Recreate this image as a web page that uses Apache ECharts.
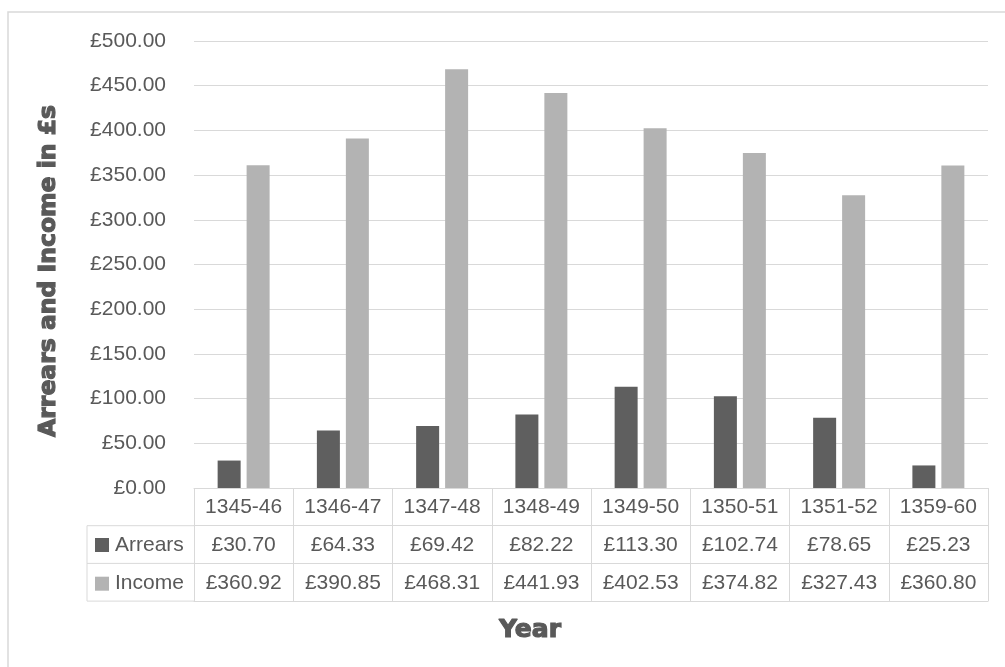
<!DOCTYPE html>
<html>
<head>
<meta charset="utf-8">
<script src="https://cdn.jsdelivr.net/npm/echarts@6/dist/echarts.min.js"></script>
<style>
  html, body { margin: 0; padding: 0; background: #ffffff; }
  #chart { width: 1005px; height: 667px; }
</style>
</head>
<body>
<div id="chart"></div>
<script>
// Manor accounts: arrears and income per accounting year
const years = ['1345-46', '1346-47', '1347-48', '1348-49', '1349-50', '1350-51', '1351-52', '1359-60'];
const arrears = [30.70, 64.33, 69.42, 82.22, 113.30, 102.74, 78.65, 25.23];
const income = [360.92, 390.85, 468.31, 441.93, 402.53, 374.82, 327.43, 360.80];
const seriesNames = ['Arrears', 'Income'];
const yTicks = { min: 0, max: 500, step: 50 };

// layout
const W = 1005, H = 667;
const plotLeft = 194, plotRight = 988, plotTop = 41, plotBottom = 488;
const rowH = 37.7;
const legendColLeft = 87;
const textColor = '#595959';
const lineColor = '#d9d9d9';
const labelFont = 'Liberation Sans, Arial, sans-serif';
const titleFont = 'DejaVu Sans, sans-serif';
const money = v => '£' + v.toFixed(2);

const chart = echarts.init(document.getElementById('chart'), null, { renderer: 'canvas' });

// one category axis per table row; axis lines draw the horizontal rules
function tableAxis(row, formatter, showLabel) {
  return {
    type: 'category',
    data: years,
    position: 'bottom',
    offset: row * rowH,
    axisLine: { show: true, lineStyle: { color: lineColor, width: 1 } },
    axisTick: row === 0
      ? { show: true, alignWithLabel: false, length: 3 * rowH, lineStyle: { color: lineColor, width: 1 } }
      : { show: false },
    axisLabel: {
      show: showLabel,
      color: textColor,
      fontFamily: labelFont,
      fontSize: 21,
      margin: 9,
      interval: 0,
      formatter: formatter
    },
    splitLine: { show: false }
  };
}

const option = {
  backgroundColor: '#ffffff',
  animation: false,
  color: ['#5f5f5f', '#b3b3b3'],
  grid: {
    left: plotLeft,
    right: W - plotRight,
    top: plotTop,
    bottom: H - plotBottom,
    containLabel: false
  },
  xAxis: [
    tableAxis(0, v => v, true),
    tableAxis(1, (v, i) => money(arrears[i]), true),
    tableAxis(2, (v, i) => money(income[i]), true),
    tableAxis(3, () => '', false)
  ],
  yAxis: {
    type: 'value',
    min: yTicks.min,
    max: yTicks.max,
    interval: yTicks.step,
    axisLine: { show: false },
    axisTick: { show: false },
    axisLabel: {
      color: textColor,
      fontFamily: labelFont,
      fontSize: 21,
      margin: 28,
      formatter: v => money(v)
    },
    splitLine: { lineStyle: { color: lineColor, width: 1 } }
  },
  legend: {
    orient: 'vertical',
    left: 95,
    top: 534.5,
    padding: 0,
    itemGap: rowH - 20,
    itemWidth: 14,
    itemHeight: 14,
    icon: 'rect',
    selectedMode: false,
    data: seriesNames,
    textStyle: {
      color: textColor,
      fontFamily: labelFont,
      fontSize: 21,
      lineHeight: 20,
      padding: [0, 0, 0, 1]
    }
  },
  series: [
    {
      name: seriesNames[0],
      type: 'bar',
      xAxisIndex: 0,
      data: arrears,
      barWidth: 23,
      barGap: '26%'
    },
    {
      name: seriesNames[1],
      type: 'bar',
      xAxisIndex: 0,
      data: income,
      barWidth: 23,
      barGap: '26%'
    }
  ],
  graphic: [
    // chart frame
    {
      type: 'rect',
      shape: { x: 8, y: 12, width: W + 10, height: H + 10 },
      style: { fill: 'none', stroke: lineColor, lineWidth: 1.5 },
      silent: true
    },
    // legend column of the data table
    {
      type: 'group',
      silent: true,
      children: [1, 2, 3].map(r => ({
        type: 'line',
        shape: { x1: legendColLeft, y1: plotBottom + r * rowH, x2: plotLeft, y2: plotBottom + r * rowH },
        style: { stroke: lineColor, lineWidth: 1 }
      })).concat([{
        type: 'line',
        shape: { x1: legendColLeft, y1: plotBottom + rowH, x2: legendColLeft, y2: plotBottom + 3 * rowH },
        style: { stroke: lineColor, lineWidth: 1 }
      }])
    },
    // value axis title
    {
      type: 'text',
      x: 49,
      y: 271,
      rotation: Math.PI / 2,
      silent: true,
      style: {
        text: 'Arrears and Income in £s',
        fill: textColor,
        font: 'bold 23.5px ' + titleFont,
        stroke: textColor,
        lineWidth: 1.2,
        align: 'center',
        verticalAlign: 'middle'
      }
    },
    // category axis title
    {
      type: 'text',
      x: 530,
      y: 630,
      silent: true,
      style: {
        text: 'Year',
        fill: textColor,
        font: 'bold 25px ' + titleFont,
        stroke: textColor,
        lineWidth: 1.2,
        align: 'center',
        verticalAlign: 'middle'
      }
    }
  ]
};

chart.setOption(option);
</script>
</body>
</html>
